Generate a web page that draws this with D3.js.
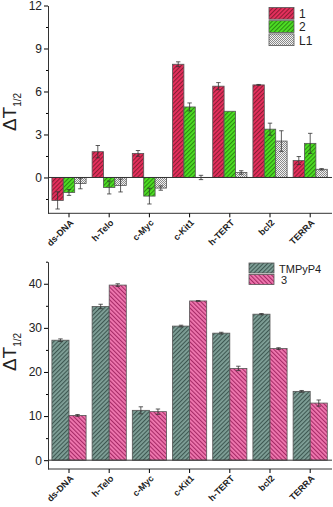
<!DOCTYPE html>
<html><head><meta charset="utf-8">
<script src="https://cdn.jsdelivr.net/npm/d3@7"></script>
<style>
body{margin:0;background:#fff;}
svg text{font-family:"Liberation Sans",Arial,sans-serif;fill:#222;}
</style></head>
<body><svg id="c" width="333" height="507"></svg>
<script>
const categories = ["ds-DNA","h-Telo","c-Myc","c-Kit1","h-TERT","bcl2","TERRA"];
// top panel
const topSeries = ["1","2","L1"];
const s1 = [-1.6, 1.8, 1.68, 7.9, 6.37, 6.46, 1.18];
const s1err = [0.6, 0.43, 0.2, 0.17, 0.25, 0.03, 0.28];
const s2 = [-1.05, -0.7, -1.3, 4.92, 4.62, 3.37, 2.38];
const s2err = [0.2, 0.45, 0.55, 0.28, 0, 0.42, 0.7];
const sL1 = [-0.42, -0.56, -0.74, 0.0, 0.35, 2.54, 0.57];
const sL1err = [0.37, 0.45, 0.15, 0.15, 0.12, 0.72, 0.05];
const topTicks = [0,3,6,9,12];
const topMinor = [-1.5,1.5,4.5,7.5,10.5];
// bottom panel
const botSeries = ["TMPyP4","3"];
const sT = [27.2, 34.85, 11.3, 30.4, 28.8, 33.1, 15.6];
const sTerr = [0.3, 0.5, 0.8, 0.2, 0.2, 0.15, 0.2];
const s3 = [10.15, 39.7, 11.0, 36.1, 20.8, 25.3, 12.95];
const s3err = [0.2, 0.3, 0.6, 0.1, 0.5, 0.2, 0.7];
const botTicks = [0,10,20,30,40];
const botMinor = [5,15,25,35,45];

const svg = d3.select("#c");
const defs = svg.append("defs");
function hatch(id, base, line, dir){
  const p = defs.append("pattern").attr("id",id).attr("patternUnits","userSpaceOnUse")
    .attr("width",3).attr("height",3).attr("patternTransform","rotate("+(dir*45)+")");
  p.append("rect").attr("width",3).attr("height",3).attr("fill",base);
  p.append("rect").attr("width",1.1).attr("height",3).attr("fill",line);
}
hatch("p1","#e8305e","#8c1c34",1);
hatch("p2","#4ee024","#2c8a12",1);
hatch("pT","#80a098","#3e5852",1);
hatch("p3","#f078b0","#a62a66",-1);
const ck = defs.append("pattern").attr("id","pL1").attr("patternUnits","userSpaceOnUse").attr("width",2).attr("height",2);
ck.append("rect").attr("width",2).attr("height",2).attr("fill","#f2f2f2");
ck.append("rect").attr("width",1).attr("height",1).attr("fill","#8a8a8a");
ck.append("rect").attr("x",1).attr("y",1).attr("width",1).attr("height",1).attr("fill","#8a8a8a");

const x0 = d3.scaleBand().domain(categories).range([48.9,330.3]).paddingInner(0.15).paddingOuter(0.075);

function panel(cfg){
  const y = d3.scaleLinear().domain(cfg.domain).range(cfg.range);
  const g = svg.append("g");
  const x1 = d3.scaleBand().domain(cfg.series).range([0,x0.bandwidth()]);
  cfg.series.forEach((s,si)=>{
    const vals = cfg.values[si], errs = cfg.errs[si];
    const gg = g.append("g");
    gg.selectAll("rect").data(categories).join("rect")
      .attr("x",c=>x0(c)+x1(s)).attr("width",x1.bandwidth())
      .attr("y",(c,i)=>y(Math.max(0,vals[i])))
      .attr("height",(c,i)=>Math.abs(y(vals[i])-y(0)))
      .attr("fill","url(#"+cfg.fills[si]+")").attr("stroke","#555").attr("stroke-width",0.8);
    const eg = gg.selectAll("g.e").data(categories).join("g").attr("class","e")
      .attr("stroke","#333").attr("stroke-width",0.8);
    eg.each(function(c,i){
      if(errs[i]<=0) return;
      const cx = x0(c)+x1(s)+x1.bandwidth()/2;
      const e = d3.select(this);
      e.append("line").attr("x1",cx).attr("x2",cx).attr("y1",y(vals[i]+errs[i])).attr("y2",y(vals[i]-errs[i]));
      e.append("line").attr("x1",cx-2.2).attr("x2",cx+2.2).attr("y1",y(vals[i]+errs[i])).attr("y2",y(vals[i]+errs[i]));
      e.append("line").attr("x1",cx-2.2).attr("x2",cx+2.2).attr("y1",y(vals[i]-errs[i])).attr("y2",y(vals[i]-errs[i]));
    });
  });
  // zero line
  g.append("line").attr("x1",48).attr("x2",332).attr("y1",y(0)).attr("y2",y(0)).attr("stroke","#333").attr("stroke-width",1);
  // y axis
  const ya = g.append("g").attr("transform","translate(48,0)")
    .call(d3.axisLeft(y).tickValues(cfg.ticks).tickSize(4).tickSizeOuter(0).tickPadding(2));
  ya.select(".domain").attr("stroke","#333");
  ya.selectAll("text").attr("font-size",12).style("fill","#222");
  g.append("g").attr("transform","translate(48,0)")
    .call(d3.axisLeft(y).tickValues(cfg.minor).tickSize(2).tickFormat(""))
    .select(".domain").remove();
  // x axis with rotated labels
  const xa = g.append("g").attr("transform","translate(0,"+cfg.range[0]+")")
    .call(d3.axisBottom(x0).tickSize(4).tickSizeOuter(0));
  xa.select(".domain").attr("d","M48,0H332").attr("stroke","#333");
  xa.selectAll(".tick text")
    .attr("x",null).attr("y",null).attr("dy",null)
    .attr("font-size",9).attr("font-weight","bold").style("fill","#222")
    .attr("text-anchor","end")
    .attr("transform","translate(5,10) rotate(-45)");
  // y label
  const yl = g.append("text").attr("transform","translate(15.5,"+cfg.labelY+") rotate(-90)")
    .attr("text-anchor","middle");
  yl.append("tspan").attr("font-size",19).text("ΔT");
  yl.append("tspan").attr("font-size",10).attr("dy",5).text("1/2");
  // legend
  const lg = g.append("g");
  cfg.series.forEach((s,si)=>{
    const ly = cfg.legY + si*cfg.legStep;
    lg.append("rect").attr("x",cfg.legX).attr("y",ly).attr("width",25).attr("height",cfg.legStep-1.5)
      .attr("fill","url(#"+cfg.fills[si]+")").attr("stroke","#555").attr("stroke-width",0.8);
    lg.append("text").attr("x",cfg.legX+30+(cfg.legOff? cfg.legOff[si]:0)).attr("y",ly+cfg.legStep/2+4)
      .attr("font-size",cfg.legFont).text(s);
  });
}

panel({domain:[-2.5,12], range:[213.3,5.5], series:topSeries, values:[s1,s2,sL1], errs:[s1err,s2err,sL1err],
  fills:["p1","p2","pL1"], ticks:topTicks, minor:topMinor, labelY:112, legX:269, legY:7.5, legStep:13.2, legFont:12});
panel({domain:[-2,45], range:[469,261.7], series:botSeries, values:[sT,s3], errs:[sTerr,s3err],
  fills:["pT","p3"], ticks:botTicks, minor:botMinor, labelY:352, legX:249, legY:263, legStep:11.5, legOff:[0,2], legFont:11});
</script></body></html>
